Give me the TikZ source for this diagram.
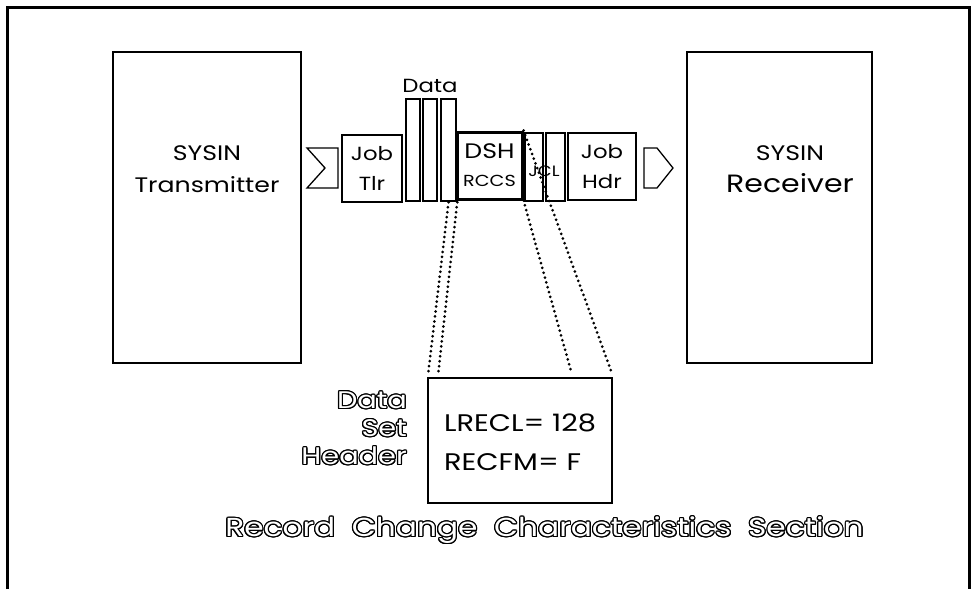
\documentclass[tikz,border=0pt]{standalone}
\usepackage{fontspec}
\setmainfont{Poppins}[FakeStretch=1.2]
\usepackage{contour}
\contourlength{1.2pt}
\usetikzlibrary{positioning, calc}

\newcommand{\hollow}[1]{\textcolor{white}{\contour{black}{#1}}}

\begin{document}
\begin{tikzpicture}[
    x=1pt, y=-1pt,
    every node/.style={align=center, inner sep=0pt},
    hostbox/.style={rectangle, draw, line width=1.3pt, minimum height=311pt},
    hosttext/.style={font=\fontsize{21}{32}\selectfont},
    recbox/.style={rectangle, draw, fill=white, line width=1.3pt,
                   minimum height=67pt, font=\fontsize{19}{30}\selectfont},
    datastrip/.style={rectangle, draw, fill=white, line width=2.5pt,
                      minimum width=14pt, minimum height=102pt},
    proj/.style={line width=3pt, line cap=round, dash pattern=on 0pt off 5pt},
    hollowtext/.style={font=\fontsize{24}{28}\selectfont}
]
\useasboundingbox (0,0) rectangle (974,589);

% outer frame, open at the bottom
\draw[line width=3pt] (7,589) -- (7,7) -- (969,7) -- (969,589);

% the two SYSIN ends
\node (tx) [hostbox, minimum width=188pt] at (207,207.5) {};
\node (txlbl) [hosttext] at (207,169) {SYSIN\\Transmitter};
\node (rx) [hostbox, minimum width=185pt] at (779.5,207.5) {};
\node (rxlbl) [hosttext] at (790,169)
    {SYSIN\\{\fontsize{25}{32}\selectfont Receiver}};

% records in the stream
\node (jobtlr) [recbox, minimum width=60pt] at (372,168.5) {Job\\Tlr};
\node (strip1) [datastrip] at (413,150) {};
\node (strip2) [datastrip] at (430,150) {};
\node (strip3) [datastrip, minimum width=15pt] at (448.5,150) {};
\node (datalbl) [above=5pt of strip2, font=\fontsize{19}{22}\selectfont] {Data};
\node (dsh) [recbox, line width=3pt, minimum width=65pt, minimum height=67pt,
             font=\fontsize{21}{30}\selectfont] at (489.5,165.5)
    {DSH\\[-2pt]{\fontsize{16}{18}\selectfont RCCS}};
\node (jcla) [recbox, minimum width=18pt, minimum height=68pt] at (534,167) {};
\node (jclb) [recbox, minimum width=19pt, minimum height=68pt] at (555.5,167) {};
\node (jcllbl) [font=\fontsize{15}{16}\selectfont] at (544,171) {JCL};
\node (jobhdr) [recbox, minimum width=68pt] at (602,166.5) {Job\\Hdr};

% stream ends
\draw[line width=1.3pt] (307,148) -- (338,148) -- (338,188) -- (307,188)
    -- (325,168) -- cycle;
\draw[line width=1.3pt] (644,148) -- (657,148) -- (673,168) -- (657,188)
    -- (644,188) -- cycle;

% expanded data set header
\node (dsd) [rectangle, draw, line width=1.3pt, minimum width=184pt,
             minimum height=125pt] at (520,440.5) {};
\node (dsdtext) [anchor=west, align=left, font=\fontsize{24}{39}\selectfont]
    at (444,442.5) {LRECL=\ 128\\RECFM=\ F};
\coordinate (dsdA) at ($(dsd.north west)+(1,-5)$);
\coordinate (dsdB) at ($(dsd.north west)+(11,-5)$);
\coordinate (dsdC) at ($(dsd.north west)+(144,-5)$);
\coordinate (dsdD) at ($(dsd.north east)+(-1,-5)$);

\draw[proj] (strip3.south) -- (dsdA);
\draw[proj] (strip3.south east) -- (dsdB);
\draw[proj] (dsh.south east) -- (dsdC);
\draw[proj] (dsh.north east) -- (dsdD);

% outlined captions
\node (dshcap) [hollowtext, anchor=east, align=right] at (407,429)
    {\hollow{Data}\\\hollow{Set}\\\hollow{Header}};
\node (rccscap) [font=\fontsize{26}{28}\selectfont] at (544.5,531)
    {\hollow{Record\ \ Change\ \ Characteristics\ \ Section}};
\end{tikzpicture}
\end{document}
